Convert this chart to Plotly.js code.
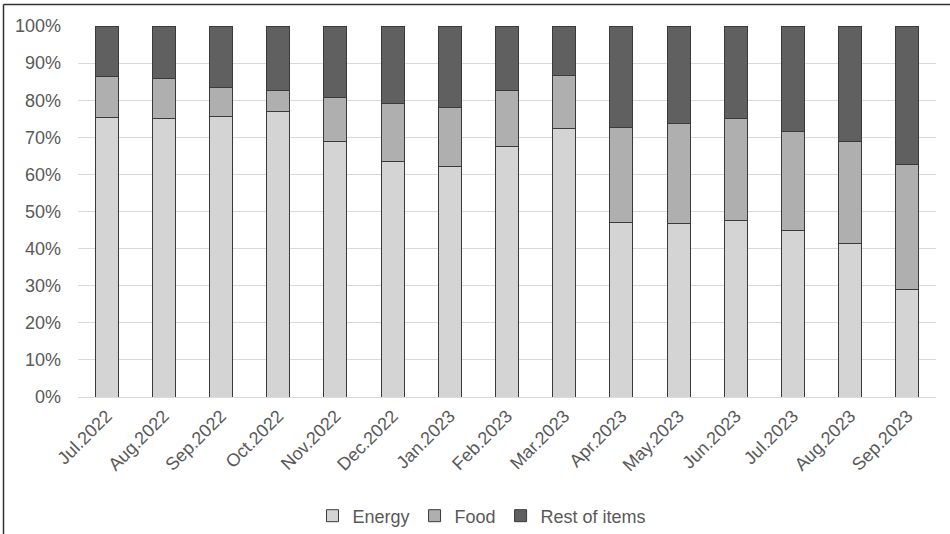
<!DOCTYPE html>
<html>
<head>
<meta charset="utf-8">
<script src="https://cdn.plot.ly/plotly-3.0.1.min.js"></script>
<style>
  html, body { margin: 0; padding: 0; background: #fff; }
  #chart { width: 950px; height: 534px; }
</style>
</head>
<body>
<div id="chart"></div>
<script>
// Monthly contribution shares (%), stacked to 100%
const months = ["Jul.2022", "Aug.2022", "Sep.2022", "Oct.2022", "Nov.2022", "Dec.2022",
  "Jan.2023", "Feb.2023", "Mar.2023", "Apr.2023", "May.2023", "Jun.2023",
  "Jul.2023", "Aug.2023", "Sep.2023"];
const energy = [75.4, 75.0, 75.6, 76.9, 68.8, 63.6, 62.2, 67.6, 72.4, 47.1, 46.7, 47.6, 44.9, 41.4, 29.1];
const food   = [10.9, 10.9, 7.9, 5.6, 12.0, 15.4, 15.8, 15.1, 14.3, 25.5, 27.1, 27.4, 26.6, 27.5, 33.5];
const rest   = [13.7, 14.1, 16.5, 17.5, 19.2, 21.0, 22.0, 17.3, 13.3, 27.4, 26.2, 25.0, 28.5, 31.1, 37.4];
const yTicks = [0, 10, 20, 30, 40, 50, 60, 70, 80, 90, 100];
const yTickText = yTicks.map(v => v + "%");

const outline = { color: "#3a3a3a", width: 1 };
function series(name, values, color) {
  return {
    type: "bar", name: name, x: months, y: values,
    marker: { color: color, line: outline },
    hoverinfo: "x+y+name"
  };
}

const data = [
  series("Energy", energy, "#d4d4d4"),
  series("Food", food, "#afafaf"),
  series("Rest of items", rest, "#606060")
];

const M = { l: 78, r: 14, t: 26, b: 137 };
const W = 950, H = 534;
const pw = W - M.l - M.r, ph = H - M.t - M.b;
// frame line positions converted from pixels to paper units
const px = v => (v - M.l) / pw;
const py = v => (H - M.b - v) / ph;

const layout = {
  width: W, height: H,
  margin: M,
  paper_bgcolor: "#ffffff",
  plot_bgcolor: "#ffffff",
  barmode: "stack",
  bargap: 0.6,
  font: { family: "Liberation Sans, Arial, sans-serif", color: "#595959", size: 18 },
  xaxis: {
    type: "category",
    tickangle: -45,
    showgrid: false,
    showline: false,
    ticks: "",
    ticklabelstandoff: 4,
    automargin: false,
    tickfont: { size: 18, color: "#595959" },
    fixedrange: true
  },
  yaxis: {
    range: [0, 100],
    tickmode: "array",
    tickvals: yTicks,
    ticktext: yTickText,
    showgrid: true,
    gridcolor: "#d9d9d9",
    gridwidth: 1,
    zeroline: true,
    zerolinecolor: "#d9d9d9",
    zerolinewidth: 1,
    showline: false,
    ticks: "",
    ticklabelstandoff: 16,
    automargin: false,
    tickfont: { size: 18, color: "#595959" },
    fixedrange: true
  },
  legend: {
    orientation: "h",
    xref: "container", yref: "container",
    x: 482 / W, xanchor: "center",
    y: (H - 516) / H, yanchor: "middle",
    font: { size: 18, color: "#595959" },
    traceorder: "normal",
    itemwidth: 30
  },
  shapes: [
    { type: "line", xref: "paper", yref: "paper", x0: px(3.5), x1: px(3.5), y0: py(4.5), y1: py(540),
      line: { color: "#333333", width: 1.5 } },
    { type: "line", xref: "paper", yref: "paper", x0: px(3.5), x1: px(955), y0: py(4.5), y1: py(4.5),
      line: { color: "#333333", width: 1.5 } }
  ],
  showlegend: true
};

Plotly.newPlot("chart", data, layout, { displayModeBar: false, staticPlot: true });
</script>
</body>
</html>
